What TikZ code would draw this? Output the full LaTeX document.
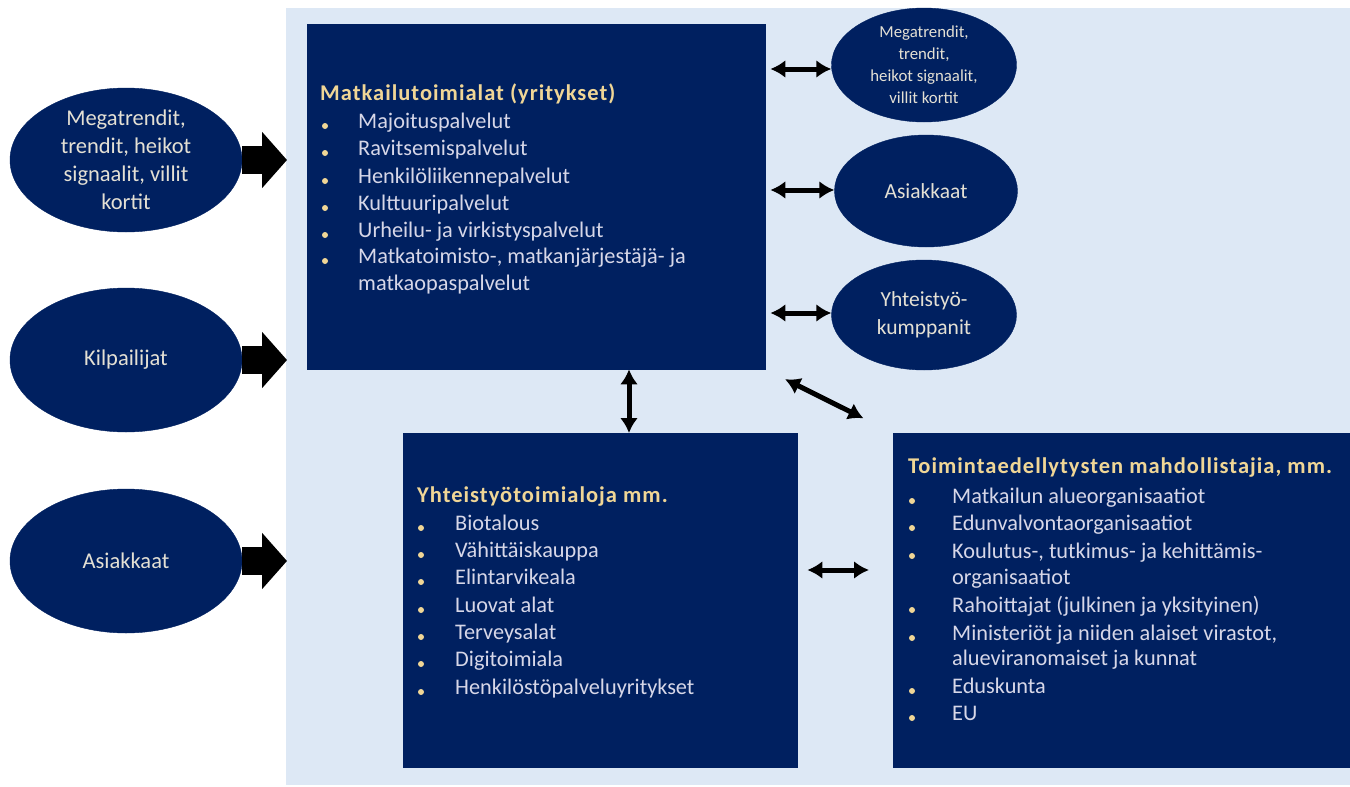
\documentclass[tikz,border=0pt]{standalone}
\usepackage{fontspec}
\setmainfont{Carlito}
\usetikzlibrary{arrows.meta,shapes.geometric}
\definecolor{navy}{RGB}{0,32,96}
\definecolor{bgblue}{RGB}{221,232,245}
\definecolor{gold}{RGB}{240,214,150}
\definecolor{itemtxt}{RGB}{215,215,232}
\definecolor{elltxt}{RGB}{228,224,212}
\begin{document}
\begin{tikzpicture}[x=1pt,y=-1pt,
  box/.style={fill=navy, draw=navy, anchor=north west, inner sep=0pt},
  ell/.style={ellipse, fill=navy, draw=navy, inner sep=0pt, text=elltxt, align=center, font=\fontsize{22.5}{28}\selectfont},
  ttl/.style={anchor=base west, inner sep=0pt, text=gold, font=\bfseries\fontsize{22.5}{25}\selectfont\addfontfeatures{LetterSpace=4.5}},
  itm/.style={anchor=base west, inner sep=0pt, text=itemtxt, font=\fontsize{22.3}{25}\selectfont},
  bul/.style={circle, fill=gold, inner sep=0pt, minimum size=6pt},
  fat/.style={-{Triangle[length=25pt,width=55pt]}, line width=28pt, black},
  dbl/.style={{Latex[length=15pt,width=18pt]}-{Latex[length=15pt,width=18pt]}, line width=5pt, black}]
\useasboundingbox (0,0) rectangle (1350,787);
\fill[bgblue] (286,8) rectangle (1350,785);

% boxes
\node[box, minimum width=458pt, minimum height=345pt] (m) at (307,24) {};
\node[box, minimum width=394pt, minimum height=334pt] (y) at (403,433) {};
\node[box, minimum width=457pt, minimum height=334pt] (t) at (893,433) {};

% box 1 text
\node[ttl] (mtitle) at (320,100) {Matkailutoimialat (yritykset)};
\foreach \yy/\tx [count=\i] in {128/Majoituspalvelut, 155/Ravitsemispalvelut, 183/Henkilöliikennepalvelut, 210/Kulttuuripalvelut, 237/{Urheilu- ja virkistyspalvelut}, 263/{Matkatoimisto-, matkanjärjestäjä- ja}}{
  \node[bul] (mb\i) at (325,\yy-2) {};
  \node[itm] (mt\i) at (358,\yy) {\tx};
}
\node[itm] (mt7) at (358,290) {matkaopaspalvelut};

% box 2 text
\node[ttl] (ytitle) at (417,502) {Yhteistyötoimialoja mm.};
\foreach \yy/\tx [count=\i] in {530/Biotalous, 557/Vähittäiskauppa, 584/Elintarvikeala, 612/{Luovat alat}, 639/Terveysalat, 666/Digitoimiala, 694/Henkilöstöpalveluyritykset}{
  \node[bul] (yb\i) at (421,\yy-2) {};
  \node[itm] (yt\i) at (455,\yy) {\tx};
}

% box 3 text
\node[ttl] (ttitle) at (908,473) {Toimintaedellytysten mahdollistajia, mm.};
\foreach \yy/\tx [count=\i] in {503/{Matkailun alueorganisaatiot}, 530/Edunvalvontaorganisaatiot, 558/{Koulutus-, tutkimus- ja kehittämis-}, 612/{Rahoittajat (julkinen ja yksityinen)}, 640/{Ministeriöt ja niiden alaiset virastot,}, 693/Eduskunta, 720/EU}{
  \node[bul] (tb\i) at (912,\yy-2) {};
  \node[itm] (tt\i) at (952,\yy) {\tx};
}
\node[itm] (tc1) at (952,584) {organisaatiot};
\node[itm] (tc2) at (952,665) {alueviranomaiset ja kunnat};

% left ellipses
\node[ell, minimum width=232pt, minimum height=144pt] (L1) at (126,160) {Megatrendit,\\trendit, heikot\\signaalit, villit\\kortit};
\node[ell, minimum width=232pt, minimum height=144pt] (L2) at (126,360) {Kilpailijat};
\node[ell, minimum width=232pt, minimum height=144pt] (L3) at (126,561) {Asiakkaat};

% right ellipses
\node[ell, minimum width=185pt, minimum height=114pt, font=\fontsize{16.8}{22}\selectfont] (R1) at (924,65) {Megatrendit,\\trendit,\\heikot signaalit,\\villit kortit};
\node[ell, minimum width=183pt, minimum height=112pt, font=\fontsize{21.5}{28}\selectfont] (R2) at (926,191) {Asiakkaat};
\node[ell, minimum width=185pt, minimum height=110pt, font=\fontsize{21.5}{28}\selectfont] (R3) at (924,315) {Yhteistyö-\\kumppanit};

% fat arrows
\foreach \e in {L1,L2,L3}
  \draw[fat, shorten >=20pt] (\e.east) -- (m.west |- \e.east);

% double arrows
\coordinate (a1) at (800,69);
\coordinate (a2) at (800,190);
\coordinate (a3) at (800,313);
\draw[dbl, shorten <=5pt] (m.east |- a1) -- (R1.west |- a1);
\draw[dbl, shorten <=5pt] (m.east |- a2) -- (R2.west |- a2);
\draw[dbl, shorten <=5pt] (m.east |- a3) -- (R3.west |- a3);
\coordinate (vx) at (629,400);
\draw[dbl] (vx |- m.south) -- (vx |- y.north);
\coordinate (hx) at (840,570);
\draw[dbl, shorten <=10pt, shorten >=24pt] (y.east |- hx) -- (t.west |- hx);
\draw[dbl, shorten <=22pt, shorten >=33pt] (m.south east) -- (t.north west);
\end{tikzpicture}
\end{document}
